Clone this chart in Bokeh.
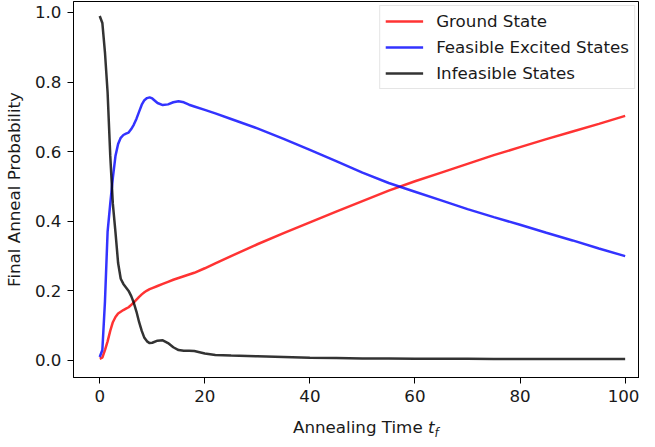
from bokeh.plotting import figure
from bokeh.models import Range1d, FixedTicker, PrintfTickFormatter, Div
from bokeh.layouts import column
from bokeh.embed import file_html
from bokeh.resources import INLINE

# ---- data ----
t = [0, 0.5, 1, 1.5, 2, 2.5, 3, 3.5, 4, 4.5, 5, 5.5, 6, 6.5, 7, 7.5, 8, 8.5, 9, 9.5,
     10, 11, 12, 13, 14, 15, 16, 17, 18, 20, 22, 25, 30, 35, 40, 45, 50, 55, 60, 65,
     70, 75, 80, 85, 90, 95, 100]

ground = [0.005, 0.008, 0.03, 0.055, 0.085, 0.11, 0.125, 0.135, 0.14, 0.145, 0.149,
          0.153, 0.16, 0.167, 0.175, 0.183, 0.19, 0.196, 0.201, 0.205, 0.208, 0.214,
          0.22, 0.226, 0.232, 0.237, 0.242, 0.247, 0.252, 0.265, 0.279, 0.30, 0.334,
          0.366, 0.397, 0.428, 0.458, 0.488, 0.515, 0.54, 0.565, 0.59, 0.613, 0.636,
          0.658, 0.68, 0.703]

feasible = [0.01, 0.03, 0.17, 0.37, 0.45, 0.525, 0.588, 0.622, 0.64, 0.648, 0.652,
            0.655, 0.665, 0.678, 0.695, 0.715, 0.735, 0.748, 0.754, 0.756, 0.753,
            0.74, 0.734, 0.736, 0.742, 0.745, 0.742, 0.735, 0.73, 0.72, 0.71, 0.694,
            0.667, 0.637, 0.605, 0.573, 0.54, 0.51, 0.485, 0.46, 0.435, 0.412, 0.39,
            0.367, 0.345, 0.322, 0.30]

infeasible = [0.99, 0.97, 0.885, 0.77, 0.59, 0.45, 0.368, 0.28, 0.235, 0.22, 0.21,
              0.20, 0.185, 0.165, 0.14, 0.11, 0.085, 0.065, 0.055, 0.05, 0.051, 0.057,
              0.058, 0.05, 0.038, 0.03, 0.028, 0.028, 0.027, 0.02, 0.016, 0.014, 0.012,
              0.01, 0.008, 0.007, 0.006, 0.006, 0.005, 0.005, 0.005, 0.004, 0.004,
              0.004, 0.004, 0.004, 0.004]

series_labels = ["Ground State", "Feasible Excited States", "Infeasible States"]
series_colors = ["red", "blue", "black"]

x_ticks = [0, 20, 40, 60, 80, 100]
y_ticks = [0.0, 0.2, 0.4, 0.6, 0.8, 1.0]

FONT = "DejaVu Sans"
FS = "16.7px"
TXT = "#1a1a1a"

p = figure(width=639, height=411, output_backend="svg", toolbar_location=None,
           x_range=Range1d(-4.99, 102.73), y_range=Range1d(-0.0489, 1.0316),
           min_border_left=67, min_border_right=0, min_border_top=1,
           min_border_bottom=34)

p.background_fill_color = "white"
p.border_fill_color = "white"
p.outline_line_color = "black"
p.outline_line_width = 1
p.xgrid.visible = False
p.ygrid.visible = False

for ys, lab, col in zip([ground, feasible, infeasible], series_labels, series_colors):
    p.line(t, ys, line_color=col, line_alpha=0.8, line_width=2.5, legend_label=lab)

for ax in (p.xaxis[0], p.yaxis[0]):
    ax.axis_line_color = "black"
    ax.axis_line_width = 1
    ax.major_tick_line_color = "black"
    ax.major_tick_in = 0
    ax.major_tick_out = 6
    ax.minor_tick_line_color = None
    ax.major_label_text_font = FONT
    ax.major_label_text_font_size = FS
    ax.major_label_text_color = TXT
    ax.major_label_standoff = 6
    ax.axis_label_text_font = FONT
    ax.axis_label_text_font_size = FS
    ax.axis_label_text_font_style = "normal"
    ax.axis_label_text_color = TXT

p.xaxis.ticker = FixedTicker(ticks=x_ticks)
p.yaxis.ticker = FixedTicker(ticks=y_ticks)
p.yaxis.formatter = PrintfTickFormatter(format="%.1f")
p.yaxis.axis_label = "Final Anneal Probability"
p.yaxis.axis_label_standoff = 8

lg = p.legend[0]
lg.location = "top_right"
lg.margin = 4
lg.padding = 5
lg.spacing = 6
lg.glyph_width = 38
lg.glyph_height = 20
lg.label_height = 20
lg.label_standoff = 13
lg.label_text_font = FONT
lg.label_text_font_size = FS
lg.label_text_color = TXT
lg.label_text_baseline = "middle"
lg.border_line_color = "#cccccc"
lg.border_line_width = 1
lg.background_fill_color = "white"
lg.background_fill_alpha = 0.8

# x-axis label (italic t with italic subscript f) as real HTML text below the plot
xlabel = Div(
    text=('<div style="padding-left:288px; font-family:\'DejaVu Sans\'; '
          'font-size:16.7px; line-height:22px; color:#1a1a1a; white-space:nowrap;">'
          'Annealing Time <i>t</i><sub style="font-size:11.7px; line-height:0;">'
          '<i>f</i></sub></div>'),
    width=639, height=20)

layout = column(p, xlabel, spacing=0)

open("out.html", "w").write(file_html(layout, INLINE))
